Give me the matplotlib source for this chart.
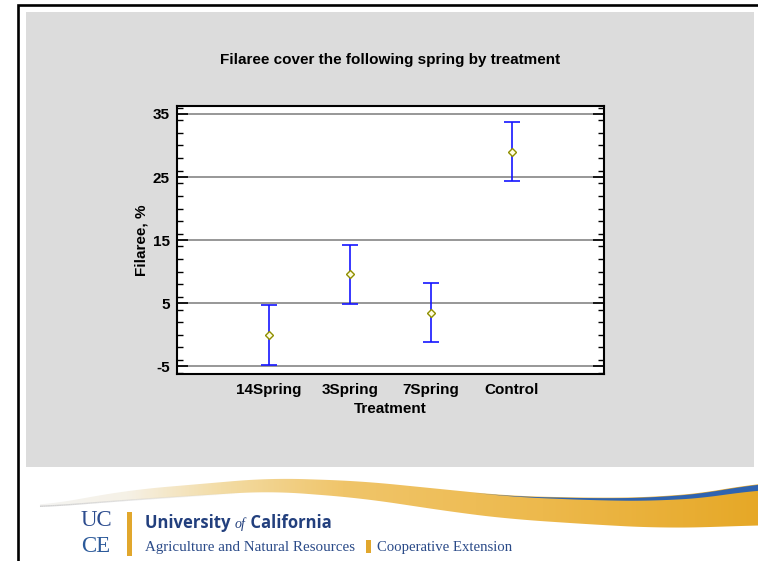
import numpy as np
import matplotlib
matplotlib.use("Agg")
import matplotlib.pyplot as plt
from matplotlib.patches import Rectangle, Polygon
from matplotlib.ticker import MultipleLocator
from matplotlib.colors import LinearSegmentedColormap

# ---- data -------------------------------------------------------------
treatments = ["14Spring", "3Spring", "7Spring", "Control"]
means = [0.0, 9.6, 3.5, 29.0]
lower = [-4.8, 4.9, -1.2, 24.3]
upper = [4.8, 14.3, 8.2, 33.7]
y_ticks = [-5, 5, 15, 25, 35]

W, H = 758, 561
fig = plt.figure(figsize=(W / 100, H / 100), dpi=100)
fig.patch.set_facecolor("white")

# ---- slide decoration (pixel coordinates) -----------------------------
deco = fig.add_axes([0, 0, 1, 1], zorder=0)
deco.set_xlim(0, W)
deco.set_ylim(H, 0)
deco.axis("off")

# grey chart panel
deco.add_patch(Rectangle((26, 12), 728, 454.5, facecolor="#dcdcdc",
                         edgecolor="none", zorder=1))
# black slide frame
deco.plot([18, 18, W + 5], [H + 5, 4.5, 4.5], color="black", lw=1.9,
          solid_joinstyle="miter", zorder=2)

# swoosh band
def smooth(xk, yk, xs):
    ys = np.interp(xs, xk, yk)
    k = np.ones(41) / 41
    pad = np.pad(ys, 20, mode="edge")
    return np.convolve(pad, k, mode="valid")

xs = np.linspace(40, W + 2, 400)
top_x = [40, 130, 270, 360, 460, 510, 600, 660, 720, 760]
top_y = [506, 490, 478, 481, 491, 496, 498, 497, 491, 482]
bot_x = [40, 130, 270, 360, 460, 510, 600, 660, 720, 760]
bot_y = [507, 500, 491, 498, 513, 519, 525, 528, 527, 525]
ty = smooth(top_x, top_y, xs)
by = smooth(bot_x, bot_y, xs)
by = np.maximum(by, ty + 0.5)

band = Polygon(np.column_stack([np.r_[xs, xs[::-1]], np.r_[ty, by[::-1]]]),
               closed=True, facecolor="none", edgecolor="none")
deco.add_patch(band)
gold = LinearSegmentedColormap.from_list(
    "gold", [(0.0, "#f4f4f2"), (0.12, "#f6f1e6"), (0.25, "#f3dca5"),
             (0.42, "#f0c56a"), (0.7, "#edb94c"), (1.0, "#e6a827")])
grad = np.linspace(0, 1, 256).reshape(1, -1)
img = deco.imshow(grad, cmap=gold, extent=(40, W + 2, 530, 470),
                  aspect="auto", zorder=3)
img.set_clip_path(band)
# faint grey lower edge on the pale left part, fading out to the right
left = np.where(xs < 240)[0]
for i in left[:-1]:
    a = 1 - (xs[i] - 40) / 200
    deco.plot(xs[i:i + 2], by[i:i + 2], color="#cfcfcf", lw=1.0,
              alpha=max(a, 0), zorder=3.5, solid_capstyle="butt")

# blue rim on top of the right part of the band
bx = xs[xs > 470]
bt = ty[xs > 470]
thick = np.clip((bx - 470) / (W - 470), 0, 1) ** 1.3 * 6
deco.fill_between(bx, bt, bt + thick, color="#2f63b0", lw=0, zorder=4)
deco.set_xlim(0, W)
deco.set_ylim(H, 0)

# logo texts
blue_dark = "#223f7d"
deco.text(81, 521, "UC", fontsize=16.5, family="Liberation Serif",
          color="#2c4c8e", va="center", ha="left", zorder=5)
deco.text(81, 546, "CE", fontsize=16.5, family="Liberation Serif",
          color="#2c5a9a", va="center", ha="left", zorder=5)
deco.add_patch(Rectangle((127, 512), 4.5, 44, facecolor="#e1a72d",
                         edgecolor="none", zorder=5))

fig.canvas.draw()
renderer = fig.canvas.get_renderer()


def run_text(x, y, parts):
    """Place consecutive text pieces left to right in pixel space."""
    for s, kw in parts:
        t = deco.text(x, y, s, va="baseline", ha="left", zorder=5, **kw)
        bb = t.get_window_extent(renderer=renderer)
        x += bb.width
    return x


run_text(145, 528, [
    ("University ", dict(fontsize=12, family="Open Sans", weight="bold",
                         color=blue_dark)),
    ("of", dict(fontsize=10, family="Liberation Serif", style="italic",
                color=blue_dark)),
    (" California", dict(fontsize=12, family="Open Sans", weight="bold",
                         color=blue_dark)),
])
run_text(145, 551, [
    ("Agriculture and Natural Resources",
     dict(fontsize=10.8, family="Liberation Serif", color="#2a4a88")),
])
deco.add_patch(Rectangle((366, 540), 4.5, 13, facecolor="#e1a72d",
                         edgecolor="none", zorder=5))
run_text(377, 551, [
    ("Cooperative Extension",
     dict(fontsize=10.6, family="Liberation Serif", color="#2a4a88")),
])

# ---- chart ------------------------------------------------------------
ax = fig.add_axes([176.5 / W, 1 - 374.3 / H, (604 - 176.5) / W,
                   (374.3 - 105.7) / H], zorder=2)
ax.set_facecolor("white")

x = np.arange(1, len(treatments) + 1)
means_a = np.array(means)
yerr = np.vstack([means_a - np.array(lower), np.array(upper) - means_a])

for v in y_ticks:
    ax.axhline(v, color="#7a7a7a", lw=1.1, zorder=1)

ax.errorbar(x, means_a, yerr=yerr, fmt="none", ecolor="#1515ff",
            elinewidth=1.2, capsize=6, capthick=1.2, zorder=3)
ax.plot(x, means_a, linestyle="none", marker="D", markersize=4.2,
        markerfacecolor="#fffde0", markeredgecolor="#8f8f00",
        markeredgewidth=1.0, zorder=4)

ax.set_xlim(-0.137, 5.137)
ax.set_ylim(-6.25, 36.3)
ax.set_xticks(x)
ax.set_xticklabels(treatments, fontsize=11, fontweight="bold",
                   family="Liberation Sans")
ax.set_yticks(y_ticks)
ax.set_yticklabels([str(v) for v in y_ticks], fontsize=11,
                   fontweight="bold", family="Liberation Sans")
ax.yaxis.set_minor_locator(MultipleLocator(2))
ax.tick_params(axis="x", length=0, pad=6)
ax.tick_params(axis="y", which="major", direction="in", length=8,
               width=1.2, left=True, right=True, pad=5)
ax.tick_params(axis="y", which="minor", direction="in", length=4,
               width=1.0, left=True, right=True)
for sp in ax.spines.values():
    sp.set_linewidth(1.5)
    sp.set_color("black")

ax.set_xlabel("Treatment", fontsize=11, fontweight="bold",
              family="Liberation Sans", labelpad=4)
ax.set_ylabel("Filaree, %", fontsize=11, fontweight="bold",
              family="Liberation Sans", labelpad=3)

fig.text(390 / W, 1 - 60 / H, "Filaree cover the following spring by treatment",
         fontsize=11, fontweight="bold", family="Liberation Sans",
         ha="center", va="center", zorder=3)

fig.savefig("out.png", dpi=100, facecolor=fig.get_facecolor())
